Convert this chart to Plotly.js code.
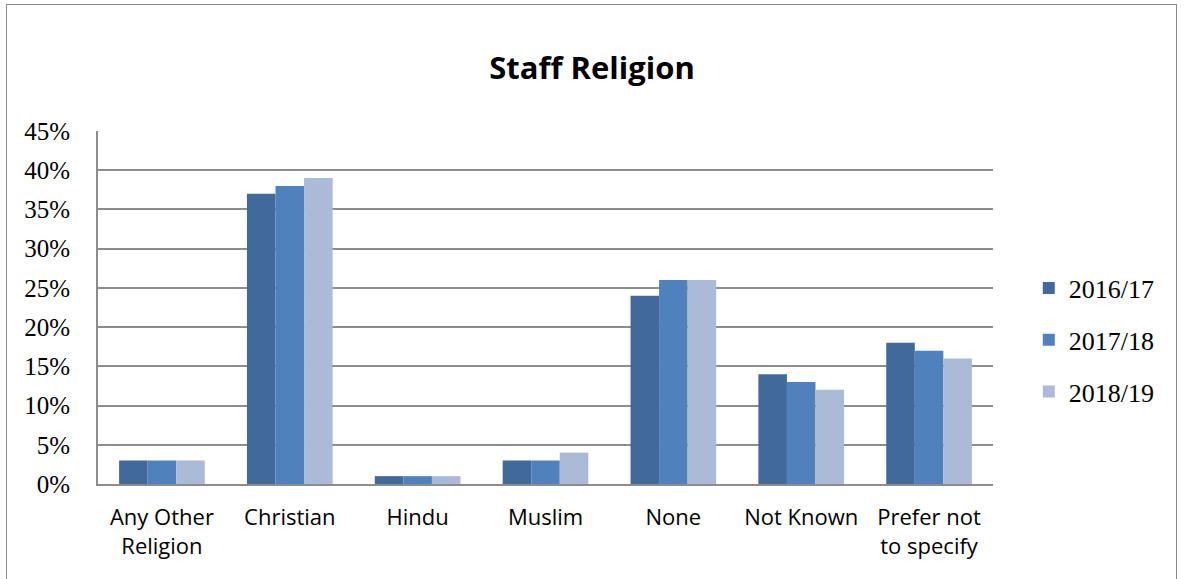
<!DOCTYPE html>
<html>
<head>
<meta charset="utf-8">
<script src="https://cdn.plot.ly/plotly-3.0.1.min.js"></script>
<style>
  html, body { margin: 0; padding: 0; background: #fff; }
  #wrap { position: relative; width: 1184px; height: 579px; }
  #frame { position: absolute; left: 6px; top: 4px; width: 1171px; height: 580px; border: 1.5px solid #8a8a8a; box-sizing: border-box; pointer-events: none; }
  #chart { position: absolute; left: 0; top: 0; width: 1184px; height: 579px; }
</style>
</head>
<body>
<div id="wrap">
  <div id="chart"></div>
  <div id="frame"></div>
</div>
<script>
const categories = ["Any Other<br>Religion", "Christian", "Hindu", "Muslim", "None", "Not Known", "Prefer not<br>to specify"];
const seriesNames = ["2016/17", "2017/18", "2018/19"];
const values2016 = [0.03, 0.37, 0.01, 0.03, 0.24, 0.14, 0.18];
const values2017 = [0.03, 0.38, 0.01, 0.03, 0.26, 0.13, 0.17];
const values2018 = [0.03, 0.39, 0.01, 0.04, 0.26, 0.12, 0.16];
const yTicks = [0, 0.05, 0.10, 0.15, 0.20, 0.25, 0.30, 0.35, 0.40, 0.45];
const colors = ["#41699b", "#4f81bd", "#aabad7"];

const allValues = [values2016, values2017, values2018];
const traces = allValues.map((vals, i) => ({
  type: "bar",
  name: seriesNames[i],
  x: categories,
  y: vals,
  legendgroup: "g" + i,
  marker: { color: colors[i], line: { width: 0 } }
}));

const layout = {
  width: 1184,
  height: 579,
  margin: { l: 98, r: 191, t: 131, b: 95 },
  paper_bgcolor: "#ffffff",
  plot_bgcolor: "#ffffff",
  barmode: "group",
  bargap: 0.33,
  bargroupgap: 0,
  title: {
    text: "<b>Staff Religion</b>",
    font: { family: "Open Sans, Liberation Sans, sans-serif", size: 31, color: "#000" },
    x: 0.5, xref: "container", xanchor: "center",
    y: 1 - 68 / 579, yref: "container", yanchor: "middle"
  },
  xaxis: {
    type: "category",
    showgrid: false,
    showline: true,
    linecolor: "#8c8c8c",
    linewidth: 2,
    ticks: "outside",
    ticklen: 13,
    tickcolor: "rgba(0,0,0,0)",
    tickfont: { family: "Open Sans, Liberation Sans, sans-serif", size: 22, color: "#000" },
    tickangle: 0
  },
  yaxis: {
    range: [0, 0.45],
    tickvals: yTicks,
    tickformat: ".0%",
    showgrid: true,
    gridcolor: "#8c8c8c",
    gridwidth: 2,
    showline: true,
    linecolor: "#8c8c8c",
    linewidth: 2,
    zeroline: false,
    ticks: "",
    ticklabelstandoff: 21,
    tickfont: { family: "Liberation Serif, Times New Roman, serif", size: 25, color: "#000" }
  },
  showlegend: true,
  legend: {
    x: 1.04, xanchor: "left",
    y: 0.408, yanchor: "middle",
    traceorder: "grouped",
    tracegroupgap: 15,
    font: { family: "Liberation Serif, Times New Roman, serif", size: 26, color: "#000" },
    itemwidth: 30
  }
};

Plotly.newPlot("chart", traces, layout, { displayModeBar: false, staticPlot: true });
</script>
</body>
</html>
